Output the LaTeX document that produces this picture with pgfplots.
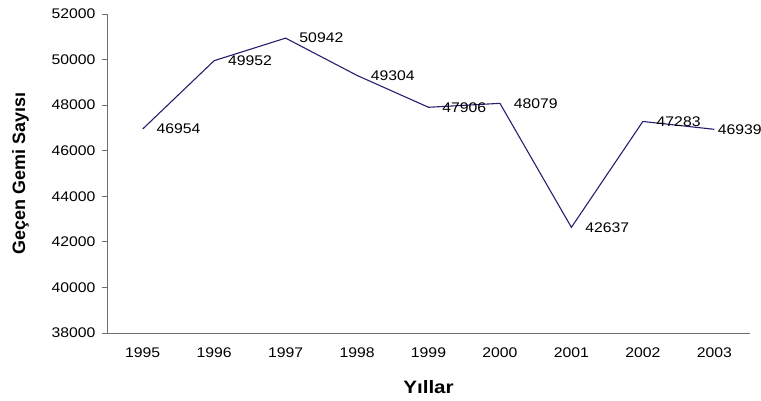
\documentclass[border=0pt]{standalone}
\usepackage{pgfplots}
\pgfplotsset{compat=1.18}
\usepackage{fontspec}
\setmainfont{Liberation Sans}
\newfontfamily\tickfont[FakeStretch=1.13]{Liberation Sans}
\newfontfamily\xlabfont[FakeStretch=1.15]{Liberation Sans}
\usetikzlibrary{calc}
\definecolor{navyline}{RGB}{36,32,110}
\definecolor{axgray}{RGB}{110,110,110}
\begin{document}
\begin{tikzpicture}
\begin{axis}[
  scale only axis,
  width=643bp, height=319bp,
  xmin=-0.5, xmax=8.5,
  ymin=38000, ymax=52000,
  ytick={38000,40000,...,52000},
  xtick={0,...,8},
  xticklabels={1995,1996,1997,1998,1999,2000,2001,2002,2003},
  extra x ticks={-0.5,0.5,...,8.5},
  extra x tick labels={},
  extra x tick style={major tick length=5bp, tick style={axgray, line width=0.8pt}},
  axis x line*=bottom,
  axis y line*=left,
  axis line style={axgray, line width=0.8pt, -},
  major x tick style={draw=none},
  ytick style={axgray, line width=0.8pt},
  tick align=outside,
  major tick length=5bp,
  scaled y ticks=false,
  /pgf/number format/assume math mode=true,
  yticklabel={\pgfmathprintnumber[fixed,1000 sep={}]{\tick}},
  tick label style={font=\tickfont\fontsize{14}{16}\selectfont, text=black},
  yticklabel style={xshift=-3bp},
  xticklabel style={yshift=-6bp},
  xlabel={\textbf{Yıllar}},
  xlabel style={font=\xlabfont\fontsize{18}{20}\selectfont, yshift=-6bp},
  ylabel={\textbf{Geçen Gemi Sayısı}},
  ylabel style={font=\fontsize{18}{20}\selectfont, yshift=16bp},
  clip=false,
]
\addplot[navyline, line width=1.1pt, mark=none,
  nodes near coords,
  nodes near coords style={anchor=west, xshift=10bp, font=\tickfont\fontsize{14}{16}\selectfont, text=black,
    /pgf/number format/.cd, fixed, 1000 sep={}},
] coordinates {
  (0,46954) (1,49952) (2,50942) (3,49304) (4,47906) (5,48079) (6,42637) (7,47283)
};
\addplot[draw=none, mark=none,
  nodes near coords,
  nodes near coords style={anchor=west, xshift=0bp, font=\tickfont\fontsize{14}{16}\selectfont, text=black,
    /pgf/number format/.cd, fixed, 1000 sep={}},
] coordinates {(8,46939)};
\addplot[navyline, line width=1.1pt, mark=none, forget plot] coordinates {(7,47283) (8,46939)};
\end{axis}
\pgfresetboundingbox
\path ($(current axis.south west)+(-107bp,-67bp)$) rectangle ($(current axis.north east)+(11bp,14bp)$);
\end{tikzpicture}
\end{document}
